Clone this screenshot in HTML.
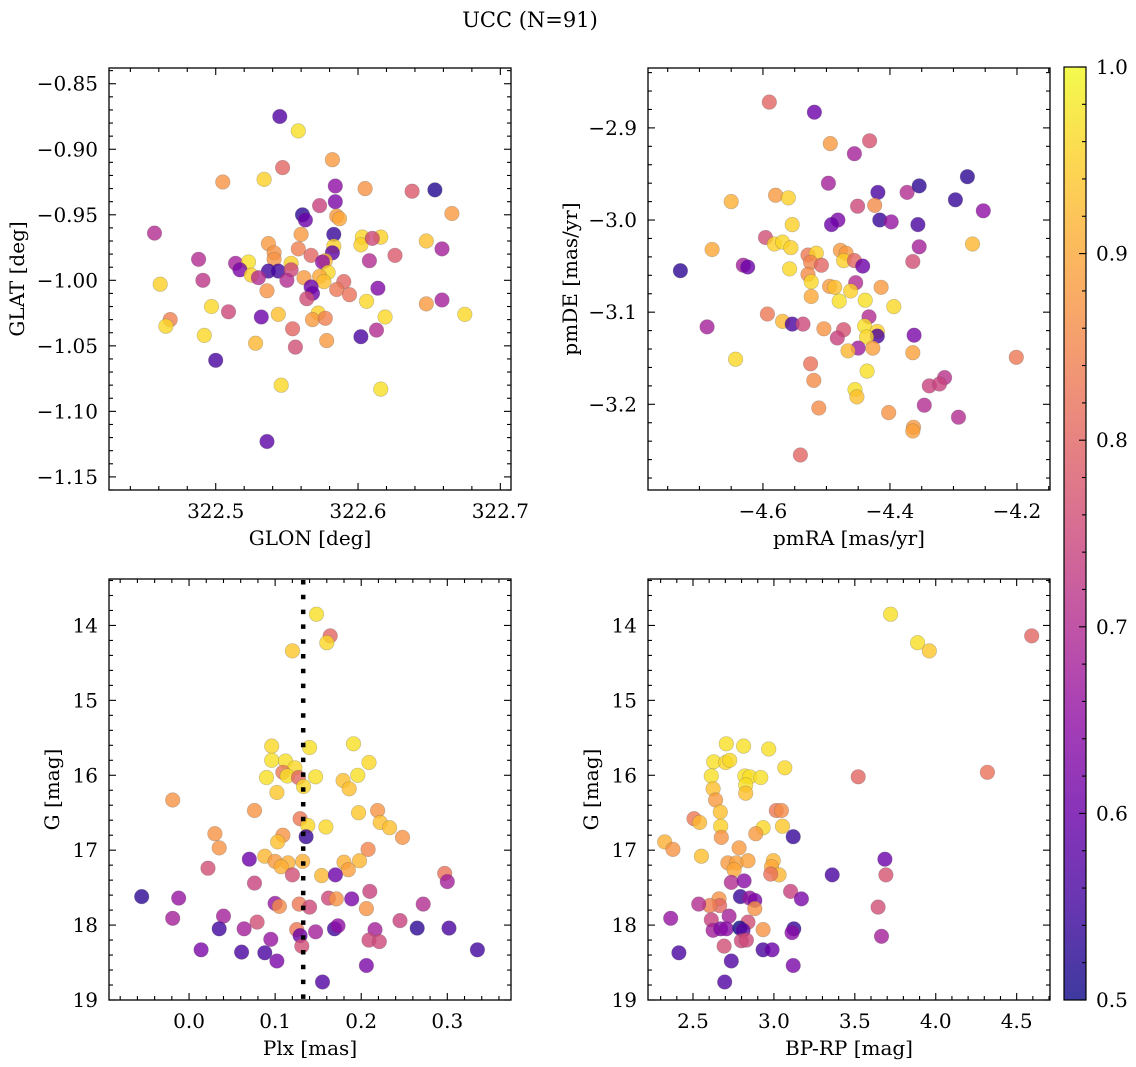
<!DOCTYPE html>
<html><head><meta charset="utf-8">
<style>
html,body{margin:0;padding:0;background:#fff;}
svg{display:block;font-family:"DejaVu Serif","Liberation Serif",serif;}
</style></head>
<body>
<svg id="fig" width="1136" height="1067" viewBox="0 0 1136 1067" xmlns="http://www.w3.org/2000/svg">
<defs>
<linearGradient id="plasmaGrad" x1="0" y1="1" x2="0" y2="0">
<stop offset="0" stop-color="#0d0887"/><stop offset="0.1" stop-color="#41049d"/><stop offset="0.2" stop-color="#6a00a8"/><stop offset="0.3" stop-color="#8f0da4"/><stop offset="0.4" stop-color="#b12a90"/><stop offset="0.5" stop-color="#cc4778"/><stop offset="0.6" stop-color="#e16462"/><stop offset="0.7" stop-color="#f2844b"/><stop offset="0.8" stop-color="#fca636"/><stop offset="0.9" stop-color="#fcce25"/><stop offset="1" stop-color="#f0f921"/>
</linearGradient>
</defs>
<text x="530" y="27" text-anchor="middle" font-size="21">UCC (N=91)</text>
</svg>
<script>
// Panel 1: GLON vs GLAT
const p1Glon=[322.545,322.558,322.582,322.547,322.505,322.534,322.584,322.605,322.638,322.654,322.584,322.573,322.666,322.561,322.563,322.585,322.587,322.457,322.583,322.560,322.603,322.602,322.616,322.610,322.648,322.659,322.537,322.583,322.558,322.582,322.541,322.567,322.626,322.488,322.608,322.541,322.553,322.577,322.575,322.514,322.523,322.517,322.537,322.544,322.553,322.579,322.525,322.530,322.550,322.562,322.573,322.576,322.590,322.461,322.491,322.614,322.567,322.568,322.536,322.585,322.594,322.564,322.606,322.659,322.648,322.497,322.509,322.675,322.468,322.465,322.532,322.544,322.572,322.568,322.577,322.619,322.554,322.613,322.602,322.492,322.528,322.578,322.556,322.500,322.546,322.616,322.536];
const p1Glat=[-0.875,-0.886,-0.908,-0.914,-0.925,-0.923,-0.928,-0.930,-0.932,-0.931,-0.940,-0.943,-0.949,-0.950,-0.954,-0.951,-0.953,-0.964,-0.965,-0.965,-0.967,-0.973,-0.967,-0.968,-0.970,-0.976,-0.972,-0.974,-0.976,-0.979,-0.979,-0.981,-0.981,-0.984,-0.985,-0.984,-0.987,-0.985,-0.986,-0.987,-0.986,-0.992,-0.993,-0.993,-0.992,-0.994,-0.996,-0.998,-1.000,-0.998,-0.997,-1.001,-1.001,-1.003,-1.000,-1.006,-1.005,-1.010,-1.008,-1.007,-1.011,-1.014,-1.016,-1.015,-1.018,-1.020,-1.024,-1.026,-1.030,-1.035,-1.028,-1.026,-1.025,-1.030,-1.029,-1.028,-1.037,-1.038,-1.043,-1.042,-1.048,-1.046,-1.051,-1.061,-1.080,-1.083,-1.123];
const p1Prob=[0.57,0.97,0.88,0.8,0.87,0.95,0.65,0.87,0.78,0.52,0.62,0.74,0.88,0.53,0.6,0.88,0.9,0.7,0.54,0.88,0.96,0.95,0.95,0.75,0.93,0.68,0.88,0.95,0.84,0.58,0.87,0.8,0.78,0.7,0.7,0.87,0.95,0.92,0.65,0.68,0.97,0.62,0.55,0.55,0.75,0.96,0.95,0.7,0.7,0.88,0.9,0.93,0.8,0.95,0.72,0.63,0.6,0.6,0.87,0.83,0.82,0.76,0.96,0.68,0.88,0.96,0.75,0.96,0.84,0.96,0.6,0.93,0.95,0.88,0.84,0.96,0.8,0.7,0.56,0.96,0.92,0.88,0.76,0.56,0.96,0.97,0.58];
const p1XTicks=[322.5,322.6,322.7];
const p1XTickLabels=["322.5","322.6","322.7"];
const p1YTicks=[-1.15,-1.10,-1.05,-1.00,-0.95,-0.90,-0.85];
const p1YTickLabels=["\u22121.15","\u22121.10","\u22121.05","\u22121.00","\u22120.95","\u22120.90","\u22120.85"];

// Panel 2: pmRA vs pmDE
const p2PmRA=[-4.590,-4.519,-4.494,-4.432,-4.456,-4.278,-4.497,-4.419,-4.373,-4.354,-4.580,-4.560,-4.650,-4.297,-4.451,-4.424,-4.253,-4.482,-4.492,-4.416,-4.398,-4.356,-4.554,-4.596,-4.582,-4.569,-4.556,-4.270,-4.354,-4.680,-4.529,-4.516,-4.478,-4.469,-4.525,-4.473,-4.456,-4.364,-4.631,-4.624,-4.443,-4.730,-4.508,-4.558,-4.529,-4.524,-4.495,-4.487,-4.454,-4.462,-4.414,-4.524,-4.480,-4.439,-4.394,-4.593,-4.569,-4.554,-4.537,-4.433,-4.688,-4.504,-4.473,-4.440,-4.483,-4.420,-4.420,-4.437,-4.362,-4.450,-4.466,-4.427,-4.364,-4.643,-4.201,-4.525,-4.436,-4.314,-4.338,-4.322,-4.520,-4.455,-4.452,-4.346,-4.512,-4.402,-4.292,-4.363,-4.364,-4.541];
const p2PmDE=[-2.872,-2.883,-2.917,-2.914,-2.928,-2.953,-2.960,-2.970,-2.970,-2.963,-2.973,-2.976,-2.980,-2.978,-2.985,-2.984,-2.990,-3.000,-3.005,-3.000,-3.002,-3.005,-3.005,-3.019,-3.026,-3.024,-3.030,-3.026,-3.029,-3.032,-3.038,-3.036,-3.033,-3.036,-3.046,-3.044,-3.044,-3.045,-3.049,-3.051,-3.050,-3.055,-3.049,-3.053,-3.059,-3.067,-3.072,-3.073,-3.068,-3.077,-3.073,-3.083,-3.088,-3.087,-3.094,-3.102,-3.110,-3.113,-3.113,-3.105,-3.116,-3.118,-3.119,-3.115,-3.128,-3.121,-3.126,-3.127,-3.125,-3.139,-3.142,-3.139,-3.144,-3.151,-3.149,-3.156,-3.164,-3.171,-3.180,-3.178,-3.174,-3.184,-3.192,-3.201,-3.204,-3.209,-3.214,-3.225,-3.229,-3.255];
const p2Prob=[0.8,0.6,0.88,0.77,0.68,0.53,0.68,0.56,0.7,0.53,0.88,0.95,0.91,0.54,0.75,0.86,0.65,0.62,0.6,0.54,0.66,0.56,0.95,0.76,0.95,0.96,0.95,0.92,0.68,0.9,0.83,0.95,0.88,0.88,0.85,0.95,0.8,0.76,0.68,0.6,0.6,0.53,0.8,0.96,0.86,0.96,0.88,0.93,0.7,0.95,0.88,0.9,0.97,0.97,0.96,0.83,0.92,0.56,0.75,0.7,0.68,0.87,0.77,0.97,0.74,0.95,0.56,0.96,0.62,0.67,0.92,0.89,0.89,0.96,0.83,0.82,0.97,0.71,0.74,0.74,0.86,0.97,0.93,0.7,0.86,0.87,0.7,0.88,0.89,0.8];
const p2XTicks=[-4.6,-4.4,-4.2];
const p2XTickLabels=["\u22124.6","\u22124.4","\u22124.2"];
const p2YTicks=[-3.2,-3.1,-3.0,-2.9];
const p2YTickLabels=["\u22123.2","\u22123.1","\u22123.0","\u22122.9"];

// Panel 3: Plx vs G
const p3Plx=[0.148,0.164,0.160,0.120,0.096,0.140,0.191,0.096,0.112,0.123,0.209,0.109,0.114,0.127,0.090,0.147,0.196,0.133,0.179,0.186,0.102,-0.019,0.076,0.219,0.197,0.129,0.222,0.233,0.138,0.159,0.030,0.109,0.103,0.136,0.248,0.035,0.208,0.070,0.088,0.100,0.115,0.107,0.132,0.180,0.198,0.185,0.022,0.120,0.154,0.170,0.297,0.300,0.076,-0.055,-0.012,0.162,0.171,0.189,0.210,0.100,0.105,0.128,0.140,0.206,0.272,-0.019,0.040,0.079,0.035,0.064,0.125,0.129,0.147,0.169,0.173,0.216,0.245,0.265,0.302,0.095,0.209,0.221,0.131,0.014,0.061,0.088,0.102,0.335,0.206,0.155];
const p3G=[13.85,14.14,14.23,14.34,15.61,15.63,15.58,15.80,15.81,15.90,15.83,15.96,16.01,16.03,16.03,16.02,16.00,16.15,16.07,16.18,16.23,16.33,16.47,16.47,16.50,16.58,16.63,16.70,16.67,16.69,16.78,16.80,16.89,16.82,16.83,16.97,16.99,17.12,17.08,17.15,17.17,17.22,17.15,17.16,17.14,17.26,17.24,17.33,17.34,17.33,17.31,17.42,17.44,17.62,17.64,17.64,17.65,17.65,17.55,17.71,17.75,17.72,17.76,17.78,17.72,17.91,17.88,17.96,18.05,18.05,18.06,18.14,18.09,18.05,18.01,18.06,17.94,18.04,18.04,18.19,18.20,18.22,18.28,18.33,18.36,18.37,18.48,18.33,18.54,18.76];
const p3Prob=[0.97,0.8,0.96,0.94,0.96,0.97,0.97,0.97,0.97,0.96,0.96,0.83,0.97,0.8,0.97,0.97,0.97,0.96,0.93,0.93,0.94,0.87,0.87,0.87,0.94,0.83,0.93,0.93,0.96,0.96,0.87,0.87,0.93,0.54,0.87,0.87,0.85,0.6,0.92,0.88,0.91,0.91,0.91,0.91,0.92,0.89,0.76,0.76,0.92,0.6,0.82,0.68,0.74,0.53,0.66,0.75,0.87,0.62,0.74,0.66,0.86,0.83,0.75,0.87,0.7,0.68,0.68,0.76,0.55,0.68,0.83,0.6,0.68,0.55,0.65,0.68,0.74,0.53,0.56,0.66,0.75,0.75,0.76,0.62,0.56,0.56,0.62,0.55,0.62,0.57];
const p3PlxMedian=0.1326;
const p3XTicks=[0.0,0.1,0.2,0.3];
const p3XTickLabels=["0.0","0.1","0.2","0.3"];
const gTicks=[14,15,16,17,18,19];
const gTickLabels=["14","15","16","17","18","19"];

// Panel 4: BP-RP vs G
const p4BpRp=[3.721,4.593,3.888,3.960,2.706,2.813,2.968,2.628,2.702,2.727,3.067,2.613,2.820,2.851,2.919,3.521,4.319,2.826,2.624,2.826,2.640,2.669,3.015,3.046,2.506,2.541,2.671,2.933,3.053,2.675,2.888,3.119,2.325,2.376,2.552,2.785,2.716,2.768,2.840,2.754,2.996,2.985,3.032,2.980,3.686,3.692,3.360,2.737,2.816,3.103,3.170,2.793,2.851,2.882,2.882,2.661,2.665,2.603,2.535,3.644,2.362,2.723,2.613,2.840,2.624,2.671,2.706,2.789,2.809,2.933,3.123,3.112,2.799,2.830,3.665,2.692,2.933,2.989,2.413,2.737,3.119,2.696];
const p4G=[13.85,14.14,14.23,14.34,15.58,15.61,15.65,15.82,15.83,15.80,15.90,16.01,16.01,16.02,16.03,16.02,15.96,16.13,16.18,16.24,16.33,16.49,16.47,16.47,16.58,16.63,16.68,16.70,16.68,16.83,16.78,16.82,16.89,16.99,17.08,16.97,17.17,17.17,17.14,17.26,17.14,17.22,17.33,17.32,17.12,17.33,17.33,17.43,17.41,17.55,17.65,17.62,17.64,17.67,17.78,17.65,17.74,17.74,17.72,17.76,17.91,17.88,17.93,17.96,18.07,18.05,18.05,18.04,18.07,18.06,18.05,18.10,18.21,18.20,18.15,18.28,18.33,18.33,18.37,18.48,18.54,18.76];
const p4Prob=[0.97,0.8,0.97,0.94,0.97,0.97,0.97,0.97,0.96,0.96,0.96,0.97,0.97,0.97,0.97,0.8,0.82,0.97,0.93,0.93,0.88,0.93,0.83,0.86,0.83,0.92,0.95,0.96,0.94,0.87,0.88,0.54,0.91,0.87,0.93,0.88,0.88,0.89,0.89,0.9,0.92,0.9,0.92,0.82,0.6,0.77,0.56,0.7,0.64,0.74,0.62,0.54,0.66,0.62,0.87,0.87,0.8,0.84,0.7,0.76,0.66,0.68,0.74,0.76,0.68,0.63,0.64,0.5,0.58,0.87,0.54,0.64,0.75,0.75,0.68,0.76,0.56,0.6,0.56,0.57,0.62,0.57];
const p4XTicks=[2.5,3.0,3.5,4.0,4.5];
const p4XTickLabels=["2.5","3.0","3.5","4.0","4.5"];

const cbTicks=[0.5,0.6,0.7,0.8,0.9,1.0];
const cbTickLabels=["0.5","0.6","0.7","0.8","0.9","1.0"];

const FS=20;
const NS="http://www.w3.org/2000/svg";
const svg=document.getElementById('fig');
function mk(tag,attrs,parent){const e=document.createElementNS(NS,tag);for(const k in attrs)e.setAttribute(k,attrs[k]);(parent||svg).appendChild(e);return e;}
const PL=[[13,8,135],[65,4,157],[106,0,168],[143,13,164],[177,42,144],[204,71,120],[225,100,98],[242,132,75],[252,166,54],[252,206,37],[240,249,33]];
function plasma(v){let t=(v-0.5)/0.5;t=Math.max(0,Math.min(1,t))*10;const i=Math.min(9,Math.floor(t));const f=t-i;const a=PL[i],b=PL[i+1];return 'rgb('+[0,1,2].map(k=>Math.round(a[k]+(b[k]-a[k])*f)).join(',')+')';}

function panel(o){
  const g=mk('g',{});
  
  
  const sx=v=>o.x0+(v-o.xlim[0])/(o.xlim[1]-o.xlim[0])*(o.x1-o.x0);
  const sy=o.invert?(v=>o.y0+(v-o.ylim[0])/(o.ylim[1]-o.ylim[0])*(o.y1-o.y0)):(v=>o.y1-(v-o.ylim[0])/(o.ylim[1]-o.ylim[0])*(o.y1-o.y0));
  const pg=mk('g',{},g);
  
  
  for(let i=0;i<o.xs.length;i++){
    const c=mk('circle',{cx:sx(o.xs[i]).toFixed(1),cy:sy(o.ys[i]).toFixed(1),r:7.3,fill:plasma(o.cs[i]),'fill-opacity':0.8,stroke:'#555','stroke-opacity':0.35,'stroke-width':0.6},pg);
    
    
  }
  if(o.vline!==undefined){
    const l=mk('line',{x1:sx(o.vline),x2:sx(o.vline),y1:o.y0+1,y2:o.y1,stroke:'#000','stroke-width':4.5,'stroke-dasharray':'4.5 10.3'},g);
    
    
  }
  const fr=mk('rect',{x:o.x0,y:o.y0,width:o.x1-o.x0,height:o.y1-o.y0,fill:'none',stroke:'#000','stroke-width':1.3},g);
  
  
  const tg=mk('g',{stroke:'#000','stroke-width':1.1},g);
  
  
  const eps=1e-9;
  const nx=Math.ceil((o.xlim[0])/o.xminor-eps), nx1=Math.floor(o.xlim[1]/o.xminor+eps);
  for(let k=nx;k<=nx1;k++){const v=k*o.xminor;const isMaj=o.xt.some(t=>Math.abs(t-v)<o.xminor/10);const L=isMaj?7:4;const X=sx(v);
    mk('line',{x1:X,x2:X,y1:o.y1,y2:o.y1-L},tg);mk('line',{x1:X,x2:X,y1:o.y0,y2:o.y0+L},tg);}
  const ylo=Math.min(o.ylim[0],o.ylim[1]),yhi=Math.max(o.ylim[0],o.ylim[1]);
  const ny=Math.ceil(ylo/o.yminor-eps), ny1=Math.floor(yhi/o.yminor+eps);
  for(let k=ny;k<=ny1;k++){const v=k*o.yminor;const isMaj=o.yt.some(t=>Math.abs(t-v)<o.yminor/10);const L=isMaj?7:4;const Y=sy(v);
    mk('line',{x1:o.x0,x2:o.x0+L,y1:Y,y2:Y},tg);mk('line',{x1:o.x1,x2:o.x1-L,y1:Y,y2:Y},tg);}
  o.xt.forEach((v,i)=>{const t=mk('text',{x:sx(v),y:o.y1+28,'text-anchor':'middle','font-size':FS},g);t.textContent=o.xtl[i];
    
    });
  o.yt.forEach((v,i)=>{const t=mk('text',{x:o.x0-11,y:sy(v)+7,'text-anchor':'end','font-size':FS},g);t.textContent=o.ytl[i];
    
    });
  const xl=mk('text',{x:(o.x0+o.x1)/2,y:o.xlabY,'text-anchor':'middle','font-size':FS},g);xl.textContent=o.xlabel;
  
  
  const yc=(o.y0+o.y1)/2;
  const yl=mk('text',{x:o.ylabX,y:yc,'text-anchor':'middle','font-size':FS,transform:'rotate(-90 '+o.ylabX+' '+yc+')'},g);yl.textContent=o.ylabel;
  
  
}

panel({name:'panel-glon-glat',x0:109,x1:511,y0:68,y1:490,xlim:[322.425,322.7075],ylim:[-1.160,-0.838],xs:p1Glon,ys:p1Glat,cs:p1Prob,xt:p1XTicks,xtl:p1XTickLabels,yt:p1YTicks,ytl:p1YTickLabels,xminor:0.02,yminor:0.01,xlabel:'GLON [deg]',ylabel:'GLAT [deg]',xlabY:545,ylabX:24});
panel({name:'panel-pmra-pmde',x0:648,x1:1050,y0:68,y1:490,xlim:[-4.781,-4.148],ylim:[-3.293,-2.835],xs:p2PmRA,ys:p2PmDE,cs:p2Prob,xt:p2XTicks,xtl:p2XTickLabels,yt:p2YTicks,ytl:p2YTickLabels,xminor:0.05,yminor:0.02,xlabel:'pmRA [mas/yr]',ylabel:'pmDE [mas/yr]',xlabY:545,ylabX:577});
panel({name:'panel-plx-g',x0:109,x1:511,y0:579,y1:1000,xlim:[-0.093,0.374],ylim:[13.38,19.0],invert:true,xs:p3Plx,ys:p3G,cs:p3Prob,xt:p3XTicks,xtl:p3XTickLabels,yt:gTicks,ytl:gTickLabels,xminor:0.02,yminor:0.2,xlabel:'Plx [mas]',ylabel:'G [mag]',xlabY:1055,ylabX:59,vline:p3PlxMedian});
panel({name:'panel-bprp-g',x0:648,x1:1050,y0:579,y1:1000,xlim:[2.222,4.706],ylim:[13.38,19.0],invert:true,xs:p4BpRp,ys:p4G,cs:p4Prob,xt:p4XTicks,xtl:p4XTickLabels,yt:gTicks,ytl:gTickLabels,xminor:0.1,yminor:0.2,xlabel:'BP-RP [mag]',ylabel:'G [mag]',xlabY:1055,ylabX:598});

(function(){
  const x0=1064,x1=1086,y0=67,y1=1000;
  const g=mk('g',{});
  
  
  const r=mk('rect',{x:x0,y:y0,width:x1-x0,height:y1-y0,fill:'url(#plasmaGrad)','fill-opacity':0.8},g);
  
  
  const f=mk('rect',{x:x0,y:y0,width:x1-x0,height:y1-y0,fill:'none',stroke:'#000','stroke-width':1.2},g);
  
  
  const sy=v=>y1-(v-0.5)/0.5*(y1-y0);
  for(let k=25;k<=50;k++){const v=k*0.02;const maj=(k%5===0);const Y=sy(v);
    mk('line',{x1:x1,x2:x1-(maj?7:4),y1:Y,y2:Y,stroke:'#000','stroke-width':1.1},g);}
  cbTicks.forEach((v,i)=>{const t=mk('text',{x:x1+10,y:sy(v)+7,'font-size':FS},g);t.textContent=cbTickLabels[i];
    
    });
})();
</script>
</body></html>
